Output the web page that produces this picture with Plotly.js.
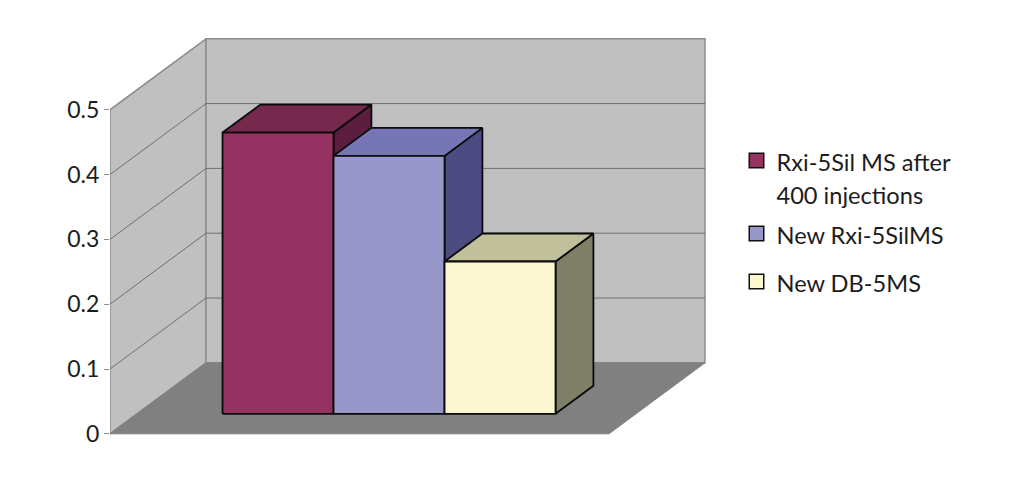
<!DOCTYPE html>
<html><head><meta charset="utf-8">
<script src="https://cdn.plot.ly/plotly-3.0.1.min.js"></script>
<style>html,body{margin:0;padding:0;background:#fff}</style>
</head><body><div id="chart" style="width:1024px;height:480px"></div>
<script>
const categories = ["Rxi-5Sil MS after<br>400 injections", "New Rxi-5SilMS", "New DB-5MS"];
const values = [0.434, 0.398, 0.235];
const tickValues = [0, 0.1, 0.2, 0.3, 0.4, 0.5];
const tickLabels = ["0", "0.1", "0.2", "0.3", "0.4", "0.5"];
const frontColors = ["#963261", "#9797ca", "#fdf7d1"];
const topColors = ["#77284d", "#7676b6", "#c2c09b"];
const sideColors = ["#5c1e3e", "#4c4c82", "#7f7f67"];

// oblique projection: x in bar widths, y in value units, d = depth 0..1
const PXW = 111, PXV = 648;
const DX = 96 / PXW, DY = 71 / PXV;
const P = (x, v, d) => [x + d * DX, v + d * DY];
const FLOOR_W = 499 / PXW, BAR_X0 = 85.5 / PXW, D0 = 20 / 71, D1 = 48 / 71;

function poly(pts, fill, line, width, extra) {
  const c = pts.concat([pts[0]]);
  return Object.assign({
    x: c.map(p => p[0]), y: c.map(p => p[1]), mode: "lines", fill: "toself",
    fillcolor: fill, line: {color: line, width: width}, showlegend: false, hoverinfo: "skip"
  }, extra || {});
}
const traces = [];
const WALL = "#c0c0c0", EDGE = "#8c8c8c", GRID = "#6e6e6e";
// walls and floor
traces.push(poly([P(0,0,0),P(0,0.5,0),P(0,0.5,1),P(0,0,1)], WALL, EDGE, 1.5));
traces.push(poly([P(0,0,1),P(0,0.5,1),P(FLOOR_W,0.5,1),P(FLOOR_W,0,1)], WALL, EDGE, 1.5));
traces.push(poly([P(0,0,0),P(0,0,1),P(FLOOR_W,0,1),P(FLOOR_W,0,0)], "#808080", "#808080", 1));
// gridlines
tickValues.slice(1, 5).forEach(v => {
  const pts = [P(0,v,0),P(0,v,1),P(FLOOR_W,v,1)];
  traces.push({x: pts.map(p=>p[0]), y: pts.map(p=>p[1]), mode:"lines",
    line:{color:GRID,width:1}, showlegend:false, hoverinfo:"skip"});
});
// bars
values.forEach((v, i) => {
  const a = BAR_X0 + i, b = a + 1;
  traces.push(poly([P(b,0,D0),P(b,0,D1),P(b,v,D1),P(b,v,D0)], sideColors[i], "#0a0a0a", 1.8));
  traces.push(poly([P(a,v,D0),P(a,v,D1),P(b,v,D1),P(b,v,D0)], topColors[i], "#0a0a0a", 1.8));
  traces.push(poly([P(a,0,D0),P(a,v,D0),P(b,v,D0),P(b,0,D0)], frontColors[i], "#0a0a0a", 1.8));
});
// legend entries
const legendNames = ["legend", "legend2", "legend3"];
categories.forEach((name, i) => {
  traces.push({x:[null], y:[null], mode:"markers", name:'<span style="font-size:23.6px">'+name+'</span>',
    legend: legendNames[i], showlegend:true, hoverinfo:"skip",
    marker:{symbol:"square", size:14.5, color:frontColors[i], line:{color:"#111", width:1.5}}});
});
const legendBase = {bgcolor:"rgba(0,0,0,0)", borderwidth:0, xanchor:"left", yanchor:"top", valign:"top",
  font:{family:"Lato, sans-serif", size:26, color:"#1c1c1c"}, itemclick:false, itemdoubleclick:false};
const lx = (736.5 - 110) / 914;
const layout = {
  width:1024, height:480, margin:{l:110,r:0,t:0,b:0}, paper_bgcolor:"#fff", plot_bgcolor:"#fff",
  showlegend:true,
  xaxis:{visible:false, range:[0, 914/PXW], fixedrange:true},
  yaxis:{range:[-46.2/PXV, 433.8/PXV], tickmode:"array", tickvals:tickValues, ticktext:tickLabels,
    showgrid:false, zeroline:false, showline:false, ticks:"outside", ticklen:5, tickcolor:"#8c8c8c",
    ticklabelstandoff:0, fixedrange:true,
    tickfont:{family:"Lato, sans-serif", size:23, color:"#1c1c1c"}},
  legend:Object.assign({}, legendBase, {x:lx, y:1-137/480}),
  legend2:Object.assign({}, legendBase, {x:lx, y:1-210/480}),
  legend3:Object.assign({}, legendBase, {x:lx, y:1-258/480})
};
Plotly.newPlot("chart", traces, layout, {displayModeBar:false});
</script></body></html>
